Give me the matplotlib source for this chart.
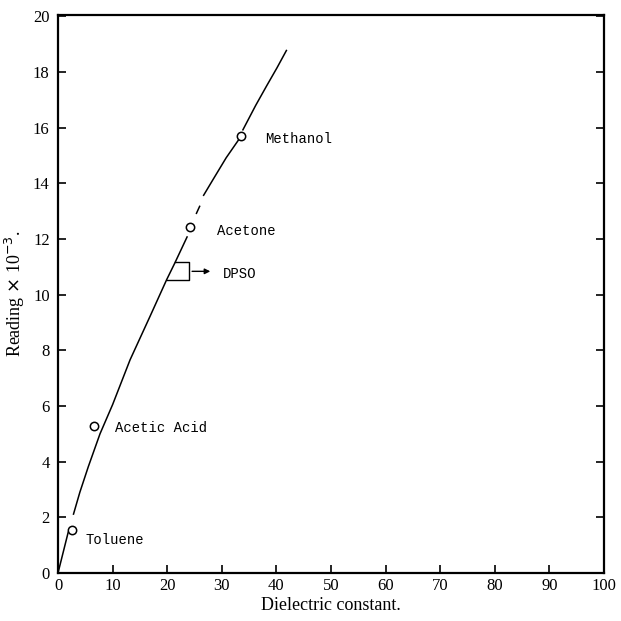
import numpy as np
import matplotlib.pyplot as plt

# puntos medidos (constante dielectrica, lectura x 1e-3)
names = ['Toluene', 'Acetic Acid', 'Acetone', 'Methanol']
eps = [2.5, 6.6, 24.2, 33.5]
reading = [1.55, 5.27, 12.42, 15.72]

# curva de calibrado, por tramos (con huecos en los circulos)
seg1_x = [0.0, 1.9]
seg1_y = [0.0, 1.49]
seg2_x = [2.8, 4.0, 5.55, 7.69, 10.0, 13.2, 16.85, 19.9, 21.4, 23.7]
seg2_y = [2.09, 2.9, 3.82, 5.0, 6.05, 7.66, 9.22, 10.54, 11.14, 12.1]
seg3_x = [25.3, 26.0]
seg3_y = [12.9, 13.2]
seg4_x = [26.6, 28.4, 30.8, 33.2]
seg4_y = [13.55, 14.14, 14.92, 15.6]
seg5_x = [33.8, 36.2, 38.2, 40.1, 41.9]
seg5_y = [15.9, 16.8, 17.5, 18.15, 18.8]

label_x = [5.1, 10.4, 29.1, 37.9]
label_y = [1.2, 5.2, 12.3, 15.6]

xticks = np.arange(0, 101, 10)
yticks = np.arange(0, 21, 2)

plt.rcParams['font.family'] = ['Liberation Serif', 'DejaVu Serif']
fig = plt.figure(figsize=(6.21, 6.21), dpi=100)
ax = fig.add_axes([0.0934, 0.0773, 0.8792, 0.8985])

for sx, sy in [(seg1_x, seg1_y), (seg2_x, seg2_y), (seg3_x, seg3_y),
               (seg4_x, seg4_y), (seg5_x, seg5_y)]:
    ax.plot(sx, sy, color='black', lw=1.1, solid_capstyle='butt')
ax.plot(eps, reading, 'o', ms=6, mfc='white', mec='black', mew=1.1, zorder=3)

for n, lx, ly in zip(names, label_x, label_y):
    ax.text(lx, ly, n, family='Liberation Mono', fontsize=10, va='center', ha='left')

# corchete DPSO
ax.plot([21.4, 24.05, 24.05, 19.9], [11.18, 11.18, 10.54, 10.54], color='black', lw=1.0)
ax.annotate('', xy=(28.4, 10.84), xytext=(24.05, 10.84),
            arrowprops=dict(arrowstyle='-|>', color='black', lw=1.0, mutation_scale=8))
ax.text(30.2, 10.75, 'DPSO', family='Liberation Mono', fontsize=10, va='center', ha='left')

ax.set_xlim(0, 100)
ax.set_ylim(0, 20.05)
ax.set_xticks(xticks)
ax.set_yticks(yticks)
ax.tick_params(direction='in', length=6, width=1.2, labelsize=12, top=False, right=True)
ax.tick_params(axis='y', pad=6)
for s in ax.spines.values():
    s.set_linewidth(1.6)

ax.set_xlabel('Dielectric constant.', fontsize=13, labelpad=2)
ax.set_ylabel(r'Reading $\times$ 10$^{-3}$.', fontsize=13, labelpad=4)

plt.savefig('out.png', dpi=100)
